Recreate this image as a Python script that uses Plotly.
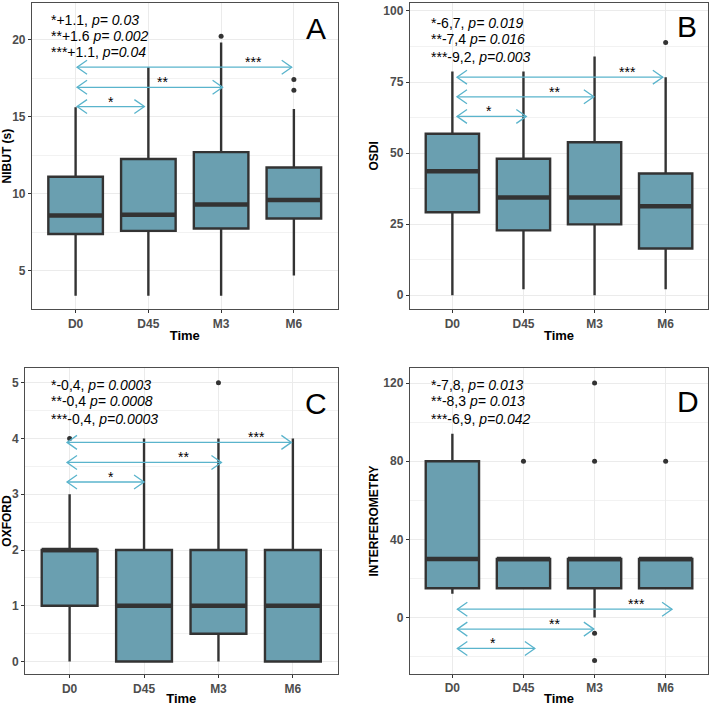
import plotly.graph_objects as go

W, H = 712, 706

categories = ["D0", "D45", "M3", "M6"]
positions = [0, 1, 2, 3]
stars = ["*", "**", "***"]

# ---------------- Panel A : NIBUT (s) ----------------
a_low = [3.4, 3.4, 3.4, 4.7]
a_q1 = [7.4, 7.6, 7.75, 8.4]
a_med = [8.6, 8.65, 9.3, 9.6]
a_q3 = [11.1, 12.25, 12.7, 11.7]
a_high = [15.6, 18.2, 19.8, 15.5]
a_out_x = ["M3", "M6", "M6"]
a_out_y = [20.2, 17.4, 16.7]
a_arrow_start = [0.02, 0.02, 0.02]
a_arrow_end = [0.945, 2.02, 2.97]
a_arrow_y = [15.65, 16.9, 18.2]
a_star_x = [0.49, 1.2, 2.45]
a_text = ["*+1.1, <i>p= 0.03</i>", "**+1.6 <i>p= 0.002</i>", "***+1.1, <i>p=0.04</i>"]

# ---------------- Panel B : OSDI ----------------
b_low = [0, 2.1, 0, 2.1]
b_q1 = [29.2, 22.8, 24.9, 16.4]
b_med = [43.6, 34.4, 34.4, 31.3]
b_q3 = [56.8, 48.0, 53.8, 42.8]
b_high = [78.7, 78.7, 84.0, 76.7]
b_out_x = ["M6"]
b_out_y = [88.9]
b_arrow_start = [0.065, 0.065, 0.065]
b_arrow_end = [1.04, 1.99, 2.96]
b_arrow_y = [62.9, 69.8, 76.7]
b_star_x = [0.52, 1.44, 2.46]
b_text = ["*-6,7, <i>p= 0.019</i>", "**-7,4 <i>p= 0.016</i>", "***-9,2, <i>p=0.003</i>"]

# ---------------- Panel C : OXFORD ----------------
c_low = [0, 0, 0, 0]
c_q1 = [1, 0, 0.5, 0]
c_med = [2, 1, 1, 1]
c_q3 = [2, 2, 2, 2]
c_high = [3, 4, 4, 4]
c_out_x = ["D0", "M3"]
c_out_y = [4, 5]
c_arrow_start = [-0.035, -0.035, -0.035]
c_arrow_end = [1.0, 2.04, 2.98]
c_arrow_y = [3.22, 3.57, 3.93]
c_star_x = [0.56, 1.53, 2.51]
c_text = ["*-0,4, <i>p= 0.0003</i>", "**-0,4 <i>p= 0.0008</i>", "***-0,4, <i>p=0.0003</i>"]

# ---------------- Panel D : INTERFEROMETRY ----------------
d_low = [12.2, 15, 0, 15]
d_q1 = [15, 15, 15, 15]
d_med = [30, 30, 30, 30]
d_q3 = [80, 30, 30, 30]
d_high = [94, 30, 30, 30]
d_out_x = ["D45", "M3", "M3", "M3", "M3", "M6"]
d_out_y = [80, 120, 80, -8, -22, 80]
d_arrow_start = [0.07, 0.07, 0.07]
d_arrow_end = [1.16, 1.99, 3.09]
d_arrow_y = [-15.8, -5.9, 4.3]
d_star_x = [0.57, 1.44, 2.59]
d_text = ["*-7,8, <i>p= 0.013</i>", "**-8,3 <i>p= 0.013</i>", "***-6,9, <i>p=0.042</i>"]

panels = [
    dict(key="", letter="A", ytitle="NIBUT (s)", low=a_low, q1=a_q1, med=a_med, q3=a_q3, high=a_high,
         ox=a_out_x, oy=a_out_y, as_=a_arrow_start, ae=a_arrow_end, ay=a_arrow_y, sx=a_star_x, text=a_text,
         px=(31, 337), py=(3, 310), yrange=[2.53, 22.36], dtick=5, standoff=2,
         text_left=48, text_ys=[20.4, 36.2, 52.6], letter_xy=(315, 28.3)),
    dict(key="2", letter="B", ytitle="OSDI", low=b_low, q1=b_q1, med=b_med, q3=b_q3, high=b_high,
         ox=b_out_x, oy=b_out_y, as_=b_arrow_start, ae=b_arrow_end, ay=b_arrow_y, sx=b_star_x, text=b_text,
         px=(409.3, 708.3), py=(2.7, 310), yrange=[-4.9, 102.9], dtick=25, standoff=2,
         text_left=429, text_ys=[23.3, 39.5, 56.7], letter_xy=(687, 26.7)),
    dict(key="3", letter="C", ytitle="OXFORD", low=c_low, q1=c_q1, med=c_med, q3=c_q3, high=c_high,
         ox=c_out_x, oy=c_out_y, as_=c_arrow_start, ae=c_arrow_end, ay=c_arrow_y, sx=c_star_x, text=c_text,
         px=(24.0, 337.0), py=(368.7, 676.3), yrange=[-0.23, 5.27], dtick=1, standoff=3,
         text_left=48, text_ys=[386.3, 402.5, 419.7], letter_xy=(315, 404.7)),
    dict(key="4", letter="D", ytitle="INTERFEROMETRY", low=d_low, q1=d_q1, med=d_med, q3=d_q3, high=d_high,
         ox=d_out_x, oy=d_out_y, as_=d_arrow_start, ae=d_arrow_end, ay=d_arrow_y, sx=d_star_x, text=d_text,
         px=(409.3, 708.3), py=(369, 676), yrange=[-28.9, 127.7], dtick=40, standoff=2,
         text_left=429, text_ys=[386.3, 402.5, 419.7], letter_xy=(687.7, 403)),
]

BOX_FILL = "#6a9fb0"
DARK = "#333333"
ARROW = "#5ab4cc"
BOX_W = 0.75
XRANGE = [-0.6, 3.6]
HEAD_LEN_PX = 10.0   # arrow-head length in pixels
HEAD_HALF_PX = 7.0   # arrow-head half height in pixels
FONT = "Liberation Sans, Arial, sans-serif"

fig = go.Figure()
annotations = []
layout = dict(
    width=W, height=H, margin=dict(l=0, r=0, t=0, b=0),
    paper_bgcolor="white", plot_bgcolor="white", showlegend=False,
    font=dict(family=FONT),
)

for p in panels:
    k = p["key"]
    xa, ya = "x" + k, "y" + k
    x0, x1 = p["px"]
    yt, yb = p["py"]
    # pixel -> data unit scale for this panel
    x_per_px = (XRANGE[1] - XRANGE[0]) / (x1 - x0)
    y_per_px = (p["yrange"][1] - p["yrange"][0]) / (yb - yt)

    # boxes
    fig.add_trace(go.Box(
        x=positions, q1=p["q1"], median=p["med"], q3=p["q3"],
        lowerfence=p["low"], upperfence=p["high"],
        width=BOX_W, whiskerwidth=0, boxpoints=False,
        fillcolor=BOX_FILL, line=dict(color=DARK, width=2.4),
        xaxis=xa, yaxis=ya, hoverinfo="skip",
    ))
    # thick medians
    mx, my = [], []
    for pos, m in zip(positions, p["med"]):
        mx += [pos - BOX_W / 2, pos + BOX_W / 2, None]
        my += [m, m, None]
    fig.add_trace(go.Scatter(x=mx, y=my, mode="lines", line=dict(color=DARK, width=4.5),
                             xaxis=xa, yaxis=ya, hoverinfo="skip"))
    # outliers
    fig.add_trace(go.Scatter(x=[categories.index(c) for c in p["ox"]], y=p["oy"], mode="markers",
                             marker=dict(color=DARK, size=5), xaxis=xa, yaxis=ya, hoverinfo="skip"))

    # double-headed comparison arrows with open chevron heads
    hx = HEAD_LEN_PX * x_per_px
    hy = HEAD_HALF_PX * y_per_px
    ax_, ay_ = [], []
    for s, e, y in zip(p["as_"], p["ae"], p["ay"]):
        ax_ += [s, e, None]
        ay_ += [y, y, None]
        ax_ += [e - hx, e, e - hx, None]
        ay_ += [y + hy, y, y - hy, None]
        ax_ += [s + hx, s, s + hx, None]
        ay_ += [y + hy, y, y - hy, None]
    fig.add_trace(go.Scatter(x=ax_, y=ay_, mode="lines", line=dict(color=ARROW, width=1.3),
                             xaxis=xa, yaxis=ya, hoverinfo="skip"))

    axis_common = dict(showline=True, mirror=True, linecolor="#4d4d4d", linewidth=1,
                       gridcolor="#ebebeb", gridwidth=1, zeroline=False,
                       ticks="outside", ticklen=3, tickcolor=DARK, tickwidth=1,
                       tickfont=dict(family=FONT, size=12, color="#4d4d4d", weight="bold"))
    layout["xaxis" + k] = dict(
        domain=[x0 / W, x1 / W], anchor=ya, range=XRANGE,
        tickvals=positions, ticktext=categories,
        title=dict(text="Time", standoff=1, font=dict(family=FONT, size=13, color="black", weight="bold")),
        **axis_common)
    layout["yaxis" + k] = dict(
        domain=[1 - yb / H, 1 - yt / H], anchor=xa, range=p["yrange"], dtick=p["dtick"], tick0=0,
        minor=dict(dtick=p["dtick"] / 2, tick0=0, showgrid=True, gridcolor="#f2f2f2", gridwidth=0.6, ticks=""),
        title=dict(text=p["ytitle"], standoff=p["standoff"],
                   font=dict(family=FONT, size=12, color="black", weight="bold")),
        **axis_common)

    # star labels
    for sx, y, st in zip(p["sx"], p["ay"], stars):
        annotations.append(dict(x=sx, y=y, xref=xa, yref=ya, text=st, showarrow=False,
                                yanchor="middle", yshift=5,
                                font=dict(family=FONT, size=14, color="black")))
    # stats text
    for t, ty in zip(p["text"], p["text_ys"]):
        annotations.append(dict(x=p["text_left"] / W, y=1 - ty / H, xref="paper", yref="paper",
                                text=t, showarrow=False, xanchor="left", yanchor="middle",
                                font=dict(family=FONT, size=14, color="black")))
    # panel letter
    lx, ly = p["letter_xy"]
    annotations.append(dict(x=lx / W, y=1 - ly / H, xref="paper", yref="paper", text=p["letter"],
                            showarrow=False, xanchor="center", yanchor="middle",
                            font=dict(family=FONT, size=30, color="black")))

layout["annotations"] = annotations
fig.update_layout(**layout)
fig.write_html(
    "out.html",
    config={"displayModeBar": False},
    post_script="document.body.style.margin='0px';document.documentElement.style.overflow='hidden';",
)
